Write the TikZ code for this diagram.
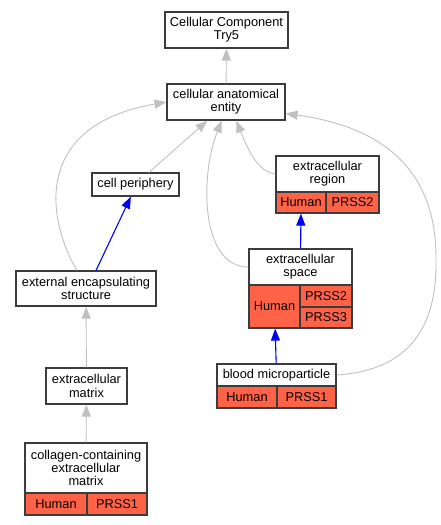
\documentclass[tikz,border=0pt]{standalone}
\usepackage{fontspec}
\setmainfont{Liberation Sans}
\usetikzlibrary{arrows.meta}
\definecolor{tomate}{HTML}{FF6347}
\definecolor{borda}{HTML}{3C3C3C}
\definecolor{cinza}{HTML}{C0C0C0}

\begin{document}
\begin{tikzpicture}[x=1pt,y=-1pt,>={Triangle[length=12pt,width=9pt]},
  termo/.style={draw=borda,line width=1.2pt,fill=white,align=center,inner sep=0pt,
    font=\fontsize{12.8}{13.2}\selectfont},
  celula/.style={termo,fill=tomate},
  cinzaseta/.style={->,cinza,line width=0.9pt},
  azulseta/.style={->,blue,line width=1.1pt}]
	\useasboundingbox (0,0) rectangle (441,525);
	% termos
	\node[termo,minimum width=123pt,minimum height=36pt] (cct) at (226.5,30) {Cellular Component\\Try5};
	\node[termo,minimum width=118pt,minimum height=36pt] (cae) at (226,102) {cellular anatomical\\entity};
	\node[termo,minimum width=87pt,minimum height=23pt] (cp) at (135.5,184.5) {cell periphery};
	\node[termo,minimum width=140pt,minimum height=35pt] (ees) at (86,288.5) {external encapsulating\\structure};
	\node[termo,minimum width=81pt,minimum height=36pt] (em) at (86.5,386) {extracellular\\matrix};
	% extracellular region
	\node[termo,minimum width=103pt,minimum height=36pt] (er) at (327.5,174) {extracellular\\region};
	\node[celula,minimum width=50pt,minimum height=21pt] (erh) at (301,202.5) {Human};
	\node[celula,minimum width=53pt,minimum height=21pt] (erp) at (352.5,202.5) {PRSS2};
	% extracellular space
	\node[termo,minimum width=103pt,minimum height=36pt] (es) at (300.5,267) {extracellular\\space};
	\node[celula,minimum width=51pt,minimum height=43pt] (esh) at (274.5,306.5) {Human};
	\node[celula,minimum width=52pt,minimum height=22pt] (esp2) at (326,296) {PRSS2};
	\node[celula,minimum width=52pt,minimum height=21pt] (esp3) at (326,317.5) {PRSS3};
	% blood microparticle
	\node[termo,minimum width=119pt,minimum height=22pt] (bm) at (276.5,375) {blood microparticle};
	\node[celula,minimum width=60pt,minimum height=22pt] (bmh) at (247,397) {Human};
	\node[celula,minimum width=59pt,minimum height=22pt] (bmp) at (306.5,397) {PRSS1};
	% collagen-containing extracellular matrix
	\node[termo,minimum width=122pt,minimum height=50pt] (ccem) at (86,468) {collagen-containing\\extracellular\\matrix};
	\node[celula,minimum width=62pt,minimum height=22pt] (ccemh) at (56,504) {Human};
	\node[celula,minimum width=60pt,minimum height=22pt] (ccemp) at (117,504) {PRSS1};
	% arestas cinzas
	\draw[cinzaseta] (cae) -- (cct);
	\draw[cinzaseta] (cp.42) -- (cae.225);
	\draw[cinzaseta] (ees.117) .. controls (45,215) and (35,125) .. (cae.west);
	\draw[cinzaseta] (es.west) .. controls (200,267) and (200,175) .. (cae.257);
	\draw[cinzaseta] (er.west) .. controls (258,172) and (248,150) .. (cae.299);
	\draw[cinzaseta] (bm.east) .. controls (415,370) and (437,320) .. (436,260)
	  .. controls (437,160) and (370,125) .. (cae.-11);
	\draw[cinzaseta] (em) -- (ees);
	\draw[cinzaseta] (ccem) -- (em);
	% arestas azuis
	\draw[azulseta] (ees.61) -- (cp.249);
	\draw[azulseta] (es) -- (erh);
	\draw[azulseta] (bm) -- (esh);
\end{tikzpicture}
\end{document}
